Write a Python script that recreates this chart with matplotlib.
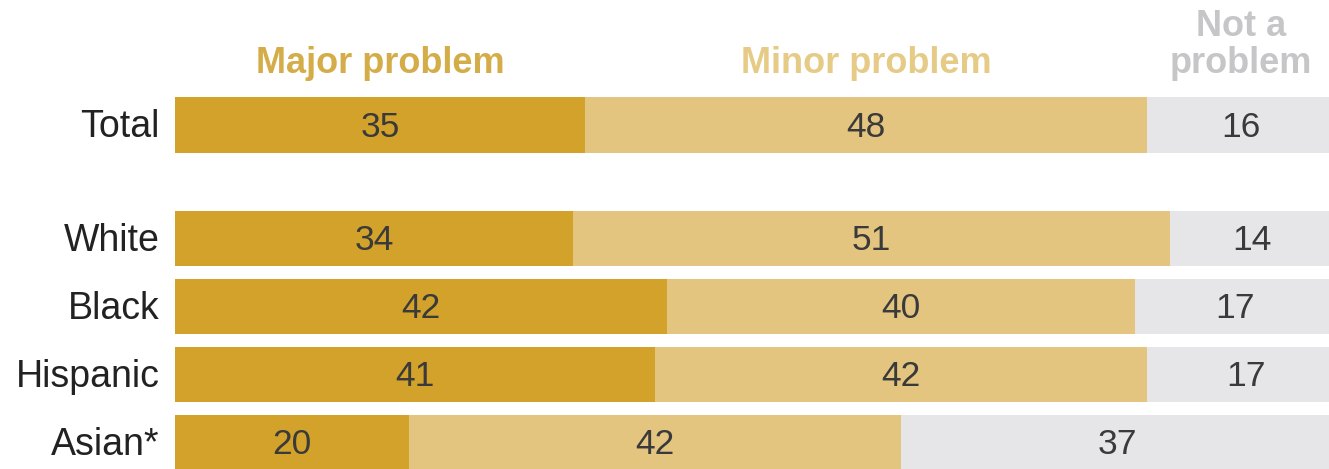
import matplotlib.pyplot as plt
import numpy as np
from matplotlib import font_manager

groups = ["Total", "White", "Black", "Hispanic", "Asian*"]
major = [35, 34, 42, 41, 20]
minor = [48, 51, 40, 42, 42]
not_problem = [16, 14, 17, 17, 37]

series = ["Major problem", "Minor problem", "Not a\nproblem"]
colors = ["#d3a22a", "#e3c57f", "#e6e6e8"]
head_colors = ["#d4ac48", "#e6cb87", "#c6c6c8"]

names = {f.name for f in font_manager.fontManager.ttflist}
plt.rcParams['font.family'] = ['Liberation Sans'] if 'Liberation Sans' in names else ['DejaVu Sans']

# rows: Total sits apart from the race groups
ypos = np.array([0, 1.67, 2.67, 3.67, 4.67])
h = 0.82

fig = plt.figure(figsize=(13.29, 4.69), dpi=100)
ax = fig.add_axes([0, 0, 1, 1])

left = np.zeros(len(groups))
for vals, c in zip([major, minor, not_problem], colors):
    vals = np.array(vals)
    ax.barh(ypos, vals, left=left, height=h, color=c, linewidth=0)
    for y, l, v in zip(ypos, left, vals):
        ax.text(l + v / 2, y - 0.02, str(v), ha='center', va='center_baseline',
                fontsize=25.5, color='#3a3a3a')
    left = left + vals

for y, g in zip(ypos, groups):
    ax.text(-1.3, y - 0.03, g, ha='right', va='center_baseline', fontsize=27, color='#222222')

# column headers over the Total segments
starts = [0, major[0], major[0] + minor[0]]
widths = [major[0], minor[0], not_problem[0]]
for s, w, name, c in zip(starts, widths, series, head_colors):
    ax.text(s + w / 2, -0.76, name, ha='center', va='baseline',
            fontsize=26, fontweight='bold', color=c, linespacing=1.1)

ax.set_xlim(-175 / 11.71, (1329 - 175) / 11.71)
ax.set_ylim((469 - 125) / 68, -125 / 68)
ax.axis('off')

plt.savefig('out.png', dpi=100)
